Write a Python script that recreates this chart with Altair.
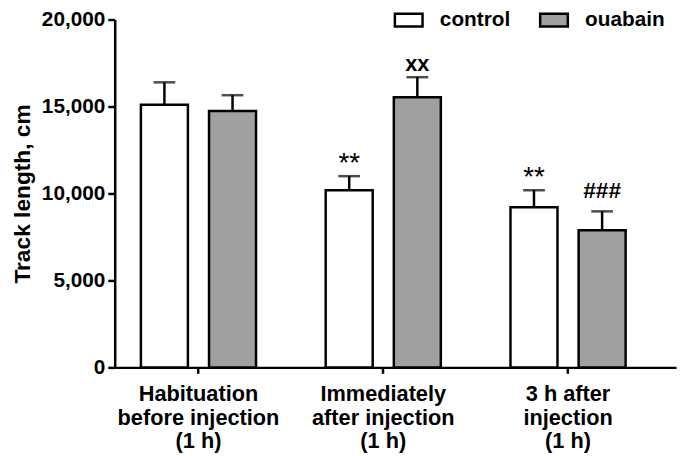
import altair as alt
import pandas as pd

# ---- data ----
periods = ["Habituation|before injection|(1 h)",
           "Immediately|after injection|(1 h)",
           "3 h after|injection|(1 h)"]
groups = ["control", "ouabain"]
control_mean = [15100, 10180, 9210]
control_sem = [1290, 815, 975]
ouabain_mean = [14740, 15530, 7880]
ouabain_sem = [910, 1155, 1090]
control_note = ["", "**", "**"]
ouabain_note = ["", "xx", "###"]
y_ticks = [0, 5000, 10000, 15000, 20000]

rows = []
for i, p in enumerate(periods):
    rows.append(dict(period=p, group="control", mean=control_mean[i],
                     top=control_mean[i] + control_sem[i], note=control_note[i]))
    rows.append(dict(period=p, group="ouabain", mean=ouabain_mean[i],
                     top=ouabain_mean[i] + ouabain_sem[i], note=ouabain_note[i]))
df = pd.DataFrame(rows)

FONT = "Liberation Sans"
W, H = 568, 352

x_enc = alt.X("period:N", sort=periods, title=None,
              scale=alt.Scale(paddingInner=0.2, paddingOuter=0.1187, align=0.224),
              axis=alt.Axis(labelExpr="split(datum.label, '|')", labelAngle=0,
                            labelFont=FONT, labelFontWeight="bold", labelFontSize=22,
                            labelColor="black", labelLineHeight=23.5, labelPadding=11,
                            labelBaseline="top",
                            domainColor="black", domainWidth=2.5,
                            tickColor="black", tickWidth=2.5, tickSize=6))
xo_enc = alt.XOffset("group:N", sort=groups,
                     scale=alt.Scale(paddingInner=0.31, paddingOuter=0.24))

base = alt.Chart(df)

bars = base.mark_bar(stroke="black", strokeWidth=2.5).encode(
    x=x_enc,
    xOffset=xo_enc,
    y=alt.Y("mean:Q", title="Track length, cm",
            scale=alt.Scale(domain=[0, 20000], nice=False),
            axis=alt.Axis(values=y_ticks, format=",.0f", grid=False,
                          labelFont=FONT, labelFontWeight="bold", labelFontSize=21,
                          labelColor="black", labelPadding=3,
                          domainColor="black", domainWidth=2.5,
                          tickColor="black", tickWidth=2.5, tickSize=7,
                          titleFont=FONT, titleFontWeight="bold", titleFontSize=23,
                          titleColor="black", titleX=-93, titleBaseline="middle")),
    fill=alt.Fill("group:N", sort=groups,
                  scale=alt.Scale(domain=groups, range=["white", "#a0a0a0"]),
                  legend=alt.Legend(title=None, orient="none", direction="horizontal",
                                    legendX=282, legendY=-15, padding=0,
                                    symbolType="M-1,-0.46L1,-0.46L1,0.46L-1,0.46Z",
                                    symbolSize=784, symbolStrokeColor="black",
                                    symbolStrokeWidth=2.5, labelOffset=16,
                                    columnPadding=24,
                                    labelFont=FONT, labelFontWeight="bold",
                                    labelFontSize=21, labelColor="black")),
)

err = base.mark_rule(color="black", strokeWidth=2.5).encode(
    x=alt.X("period:N", sort=periods), xOffset=xo_enc,
    y="mean:Q", y2="top:Q")

caps = base.mark_tick(color="black", thickness=2.5, size=22).encode(
    x=alt.X("period:N", sort=periods), xOffset=xo_enc, y="top:Q")

stars = base.transform_filter("datum.note == '**'").mark_text(
    font=FONT, fontSize=28, fontWeight="normal", color="black",
    baseline="alphabetic", dy=-4).encode(
    x=alt.X("period:N", sort=periods), xOffset=xo_enc, y="top:Q", text="note:N")

xx = base.transform_filter("datum.note == 'xx'").mark_text(
    font=FONT, fontSize=22, fontWeight="bold", color="black",
    baseline="alphabetic", dy=-6).encode(
    x=alt.X("period:N", sort=periods), xOffset=xo_enc, y="top:Q", text="note:N")

hashes = base.transform_filter("datum.note == '###'").mark_text(
    font=FONT, fontSize=23, fontWeight="bold", color="black",
    baseline="alphabetic", dy=-14).encode(
    x=alt.X("period:N", sort=periods), xOffset=xo_enc, y="top:Q", text="note:N")

chart = alt.layer(bars, err, caps, stars, xx, hashes).properties(
    width=W, height=H,
    autosize=alt.AutoSizeParams(type="none"),
    padding={"left": 108, "top": 9, "right": 1, "bottom": 87},
    background="white",
).configure_view(stroke=None)

chart.save("out.html", embed_options={"renderer": "svg", "actions": False})
